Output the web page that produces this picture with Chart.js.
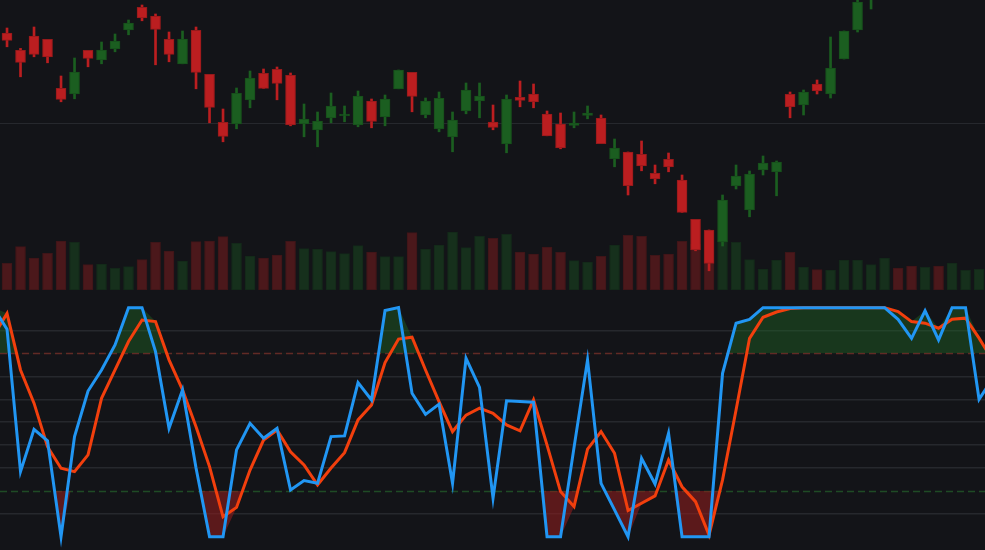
<!DOCTYPE html>
<html>
<head>
<meta charset="utf-8">
<script src="https://cdn.jsdelivr.net/npm/chart.js@4.4.1/dist/chart.umd.min.js"></script>
<style>
  html, body { margin: 0; padding: 0; background: #131418; }
  #chart { display: block; }
</style>
</head>
<body>
<canvas id="chart" width="985" height="550"></canvas>
<script>
// candles, one per bar index 0..72
const opens = [183.5, 174.8, 182.0, 180.3, 155.8, 153.1, 174.8, 170.1, 175.6, 185.1,
  196.3, 192.0, 180.3, 168.1, 184.8, 162.8, 138.8, 138.1, 150.1, 163.3,
  165.3, 162.3, 138.0, 135.1, 141.1, 142.1, 137.5, 149.5, 141.6, 155.6,
  163.8, 142.6, 135.6, 131.6, 144.6, 149.6, 139.0, 128.1, 151.3, 153.0,
  143.0, 138.0, 137.3, 142.3, 141.0, 120.6, 124.0, 122.8, 113.3, 120.3,
  110.0, 90.3, 85.0, 79.0, 107.0, 95.1, 115.0, 114.1, 152.8, 147.6,
  158.0, 153.0, 170.5, 185.0, 203.0, 211, 219, 215, 209, 216,
  212, 219, 224];
const closes = [179.8, 168.8, 172.8, 171.6, 150.3, 164.0, 170.8, 175.0, 179.5, 188.5,
  191.1, 185.3, 172.8, 180.5, 163.8, 146.3, 131.8, 153.3, 161.0, 155.8,
  158.3, 137.5, 140.5, 139.5, 147.0, 143.0, 152.0, 139.3, 150.5, 165.0,
  151.8, 149.5, 150.8, 140.0, 155.0, 152.0, 136.3, 150.5, 149.8, 149.1,
  132.1, 126.1, 138.5, 143.5, 128.2, 126.0, 107.2, 117.1, 110.6, 116.6,
  93.8, 75.0, 68.3, 100.0, 112.0, 113.0, 118.5, 119.0, 146.6, 154.0,
  154.6, 166.0, 184.5, 199.0, 212, 218, 214, 209, 216, 212,
  219, 224, 229];
const highs = [186.0, 175.8, 186.5, 180.3, 162.0, 171.0, 174.8, 179.0, 183.0, 190.0,
  197.5, 193.0, 184.0, 184.5, 186.5, 162.8, 145.5, 156.0, 164.5, 165.5,
  166.5, 163.5, 148.0, 144.0, 153.5, 147.0, 154.5, 150.5, 152.5, 165.0,
  163.8, 151.0, 154.0, 144.0, 158.5, 158.5, 147.5, 152.5, 159.5, 158.0,
  144.5, 143.5, 144.0, 147.0, 142.5, 130.5, 124.0, 129.5, 117.5, 123.5,
  112.5, 90.3, 85.0, 102.5, 117.5, 114.5, 122.0, 119.5, 154.0, 155.0,
  160.0, 181.5, 184.5, 200.5, 214, 221, 222, 217, 219, 219,
  222, 227, 231];
const lows = [176.6, 161.6, 171.6, 168.6, 149.1, 150.6, 166.6, 168.1, 174.1, 182.6,
  189.6, 167.6, 169.1, 168.1, 155.6, 138.6, 129.1, 135.6, 146.1, 155.8,
  150.1, 137.1, 131.6, 126.6, 138.6, 139.1, 136.6, 136.1, 137.1, 155.6,
  144.1, 141.1, 134.1, 124.1, 143.1, 141.1, 135.1, 123.6, 146.6, 146.1,
  132.1, 125.6, 136.1, 140.6, 128.2, 116.6, 102.5, 114.6, 108.1, 114.1,
  93.8, 74.6, 64.6, 77.0, 105.5, 91.6, 112.5, 102.1, 141.1, 142.5,
  153.0, 151.0, 170.5, 184.0, 195.5, 209, 212, 207, 206, 210,
  210, 217, 222];
const volumes = [267, 433, 320, 367, 490, 477, 253, 260, 217, 233,
  303, 477, 390, 290, 483, 490, 533, 467, 340, 320,
  350, 487, 413, 410, 383, 363, 443, 380, 333, 333,
  573, 410, 450, 580, 423, 537, 517, 557, 380, 360,
  430, 377, 293, 280, 337, 450, 547, 537, 347, 360,
  487, 460, 400, 500, 477, 303, 210, 300, 377, 230,
  203, 200, 300, 300, 253, 320, 220, 240, 227, 240,
  270, 197, 207];

// stochastic %K / %D, bar index -1..73
const stochStart = -1;
const stochK = [100, 90.6, 28.4, 46.9, 41.9, 0, 43.7, 63.6, 72.8, 83.7,
  100, 100, 80.8, 47.3, 64.1, 30, 0, 0, 37.9, 49.5,
  43, 47.3, 20.4, 24.5, 23.3, 43.7, 44, 67.3, 59.7, 98.7,
  100, 62.6, 53.4, 57.9, 23.3, 77.9, 65.2, 16.8, 59.3, 59,
  58.7, 0, 0, 39, 77.2, 23.3, 11.7, 0, 34.2, 23,
  45.2, 0, 0, 0, 71.3, 93.2, 94.9, 100, 100, 100,
  100, 100, 100, 100, 100, 100, 100, 94.9, 86.6, 98.6,
  85.9, 100, 100, 60, 69];
const stochD = [87.7, 97.5, 72.8, 58.3, 39.3, 29.9, 28.4, 35.7, 60.4, 72.8,
  85.2, 94.6, 93.9, 77.2, 64.1, 48, 30.6, 8.7, 12.8, 29.1,
  42.2, 46.6, 37.1, 31.3, 22.6, 30, 36.7, 51, 57.5, 76,
  86.3, 87.1, 72.8, 59, 45.9, 53.1, 56.1, 53.9, 48.8, 46.2,
  59.7, 40, 19.7, 13.1, 38.2, 45.9, 36.4, 11.4, 14.6, 17.8,
  33.5, 21.8, 15.3, 0.7, 24.8, 55.3, 86.6, 95.8, 98.1, 99.6,
  100, 100, 100, 100, 100, 100, 100, 98.3, 93.9, 93.2,
  91, 94.9, 95.4, 86.7, 77];

const overbought = 80;
const oversold = 20;
const priceGrid = [138];
const oscGrid = [10, 30, 40, 50, 60, 70, 90];

const gridColor = '#26282d';
const upColor = '#1b5e20';
const downColor = '#bb1e20';

const isUp = opens.map((o, i) => closes[i] >= o);
const bodyData = opens.map((o, i) => ({x: i, y: [o, closes[i]]}));
const wickData = opens.map((o, i) => ({x: i, y: [lows[i], highs[i]]}));
const volData = volumes.map((v, i) => ({x: i, y: v}));
const kData = stochK.map((v, j) => ({x: j + stochStart, y: v}));
const dData = stochD.map((v, j) => ({x: j + stochStart, y: v}));
// envelope of both lines, used only for the zone fills
const topEnv = stochK.map((v, j) => ({x: j + stochStart, y: Math.max(v, stochD[j])}));
const lowEnv = stochK.map((v, j) => ({x: j + stochStart, y: Math.min(v, stochD[j])}));

const levelLines = {
  id: 'levelLines',
  beforeDatasetsDraw(chart) {
    const {ctx, chartArea} = chart;
    const ys = chart.scales.yOsc;
    ctx.save();
    ctx.lineWidth = 1.5;
    ctx.setLineDash([7, 4]);
    [[overbought, '#6a2426'], [oversold, '#1f4b25']].forEach(([lv, col]) => {
      const y = Math.round(ys.getPixelForValue(lv)) + 0.5;
      ctx.strokeStyle = col;
      ctx.beginPath();
      ctx.moveTo(chartArea.left, y);
      ctx.lineTo(chartArea.right, y);
      ctx.stroke();
    });
    ctx.restore();
  }
};

const lineOpts = {type: 'line', yAxisID: 'yOsc', pointRadius: 0, borderWidth: 3, tension: 0, borderJoinStyle: 'miter'};

new Chart('chart', {
  type: 'bar',
  data: {
    datasets: [
      {
        data: bodyData,
        yAxisID: 'yPrice',
        grouped: false,
        barThickness: 10,
        backgroundColor: isUp.map(u => u ? upColor : downColor),
        borderColor: isUp.map(u => u ? '#174f1b' : '#961a1b'),
        borderWidth: 1,
        borderSkipped: false
      },
      {
        data: wickData,
        yAxisID: 'yPrice',
        grouped: false,
        barThickness: 2,
        backgroundColor: isUp.map(u => u ? upColor : downColor),
        borderWidth: 0
      },
      {
        data: volData,
        yAxisID: 'yVol',
        grouped: false,
        barThickness: 10,
        backgroundColor: isUp.map(u => u ? '#16301c' : '#4b181b'),
        borderColor: isUp.map(u => u ? '#132819' : '#3e1518'),
        borderWidth: 1,
        borderSkipped: false
      },
      {...lineOpts, data: kData, borderColor: '#2196f3'},
      {...lineOpts, data: dData, borderColor: '#f23f0d'},
      {
        ...lineOpts, data: topEnv, borderWidth: 0, borderColor: 'rgba(0,0,0,0)',
        fill: {target: {value: overbought}, above: 'rgba(30,105,38,0.42)', below: 'rgba(0,0,0,0)'}
      },
      {
        ...lineOpts, data: lowEnv, borderWidth: 0, borderColor: 'rgba(0,0,0,0)',
        fill: {target: {value: oversold}, above: 'rgba(0,0,0,0)', below: 'rgba(140,28,30,0.6)'}
      }
    ]
  },
  options: {
    responsive: false,
    animation: false,
    layout: {padding: 0},
    plugins: {legend: {display: false}, tooltip: {enabled: false}},
    scales: {
      x: {type: 'linear', min: -0.52, max: 72.44, offset: false, display: false},
      yPrice: {
        type: 'linear', position: 'left', stack: 'left', stackWeight: 290, weight: 2,
        min: 55, max: 200,
        ticks: {display: false},
        grid: {color: gridColor, drawTicks: false},
        border: {display: false},
        afterBuildTicks: s => { s.ticks = priceGrid.map(v => ({value: v})); }
      },
      yOsc: {
        type: 'linear', position: 'left', stack: 'left', stackWeight: 260, weight: 1,
        min: -5.8, max: 107.7,
        ticks: {display: false},
        grid: {color: gridColor, drawTicks: false, lineWidth: 1.5},
        border: {display: false},
        afterBuildTicks: s => { s.ticks = oscGrid.map(v => ({value: v})); }
      },
      yVol: {type: 'linear', position: 'right', stack: 'right', stackWeight: 290, weight: 1, min: 0, max: 2900, display: false},
      yPad: {type: 'linear', position: 'right', stack: 'right', stackWeight: 260, weight: 2, min: 0, max: 1, display: false}
    }
  },
  plugins: [levelLines]
});
</script>
</body>
</html>
